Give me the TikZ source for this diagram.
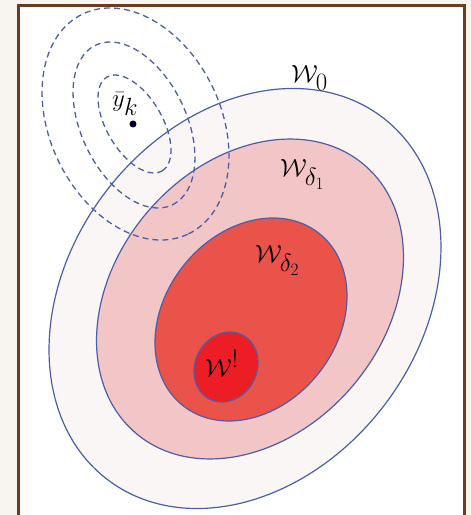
\documentclass[tikz,border=0pt]{standalone}
\usepackage{amsmath}
\definecolor{bgout}{HTML}{F8F5F0}
\definecolor{framec}{HTML}{6E3B1E}
\definecolor{edgeblue}{HTML}{4B5EA8}
\definecolor{fillA}{HTML}{FAF6F6}
\definecolor{fillB}{HTML}{F2C6C6}
\definecolor{fillC}{HTML}{E9534A}
\definecolor{fillD}{HTML}{EC1D25}
\tikzset{
  region/.style={draw=edgeblue, line width=1.2pt},
  level/.style={draw=edgeblue, line width=1.3pt, dash pattern=on 6pt off 4pt},
  lbl/.style={inner sep=0pt, anchor=base west, font=\fontsize{33}{36}\selectfont},
}
\begin{document}
\begin{tikzpicture}[x=1pt,y=1pt]
\useasboundingbox (0,0) rectangle (471,515);
\fill[bgout] (0,0) rectangle (471,515);
\fill[white] (18.5,-10) rectangle (464.5,509.5);
% regions
\draw[region, fill=fillA, rotate around={52.9:(245,216.5)}] (245,216.5) ellipse [x radius=227.4, y radius=175.5];
\draw[region, fill=fillB, rotate around={49.5:(250,216)}] (250,216) ellipse [x radius=176.2, y radius=134.5];
\draw[region, fill=fillC, rotate around={51.8:(251,195.5)}] (251,195.5) ellipse [x radius=109.8, y radius=86.4];
\draw[region, fill=fillD, rotate around={62.8:(226,148)}] (226,148) ellipse [x radius=36, y radius=30.9];
% level sets around y_k
\draw[level, rotate around={-59.6:(134.5,391)}] (134.5,391) ellipse [x radius=54.4, y radius=27.8];
\draw[level, rotate around={-64.3:(134,390)}] (134,390) ellipse [x radius=88.6, y radius=52.5];
\draw[level, rotate around={-64.3:(135.5,391)}] (135.5,391) ellipse [x radius=122, y radius=85.5];
\fill[black!85!blue] (133,391) circle [radius=3.5];
% labels
\node[lbl] (lw0) at (291,432) {$\mathcal{W}_0$};
\node[lbl] (lw1) at (280,338) {$\mathcal{W}_{\delta_1}$};
\node[lbl] (lw2) at (255,252) {$\mathcal{W}_{\delta_2}$};
\node[lbl] (lw3) at (205,138) {$\mathcal{W}^!$};
\node[lbl] (lyk) at (112,408) {$\bar{y}_k$};
% frame
\draw[framec, line width=2.5pt] (18.5,-10) -- (18.5,509.5) -- (464.5,509.5) -- (464.5,-10);
\end{tikzpicture}
\end{document}
